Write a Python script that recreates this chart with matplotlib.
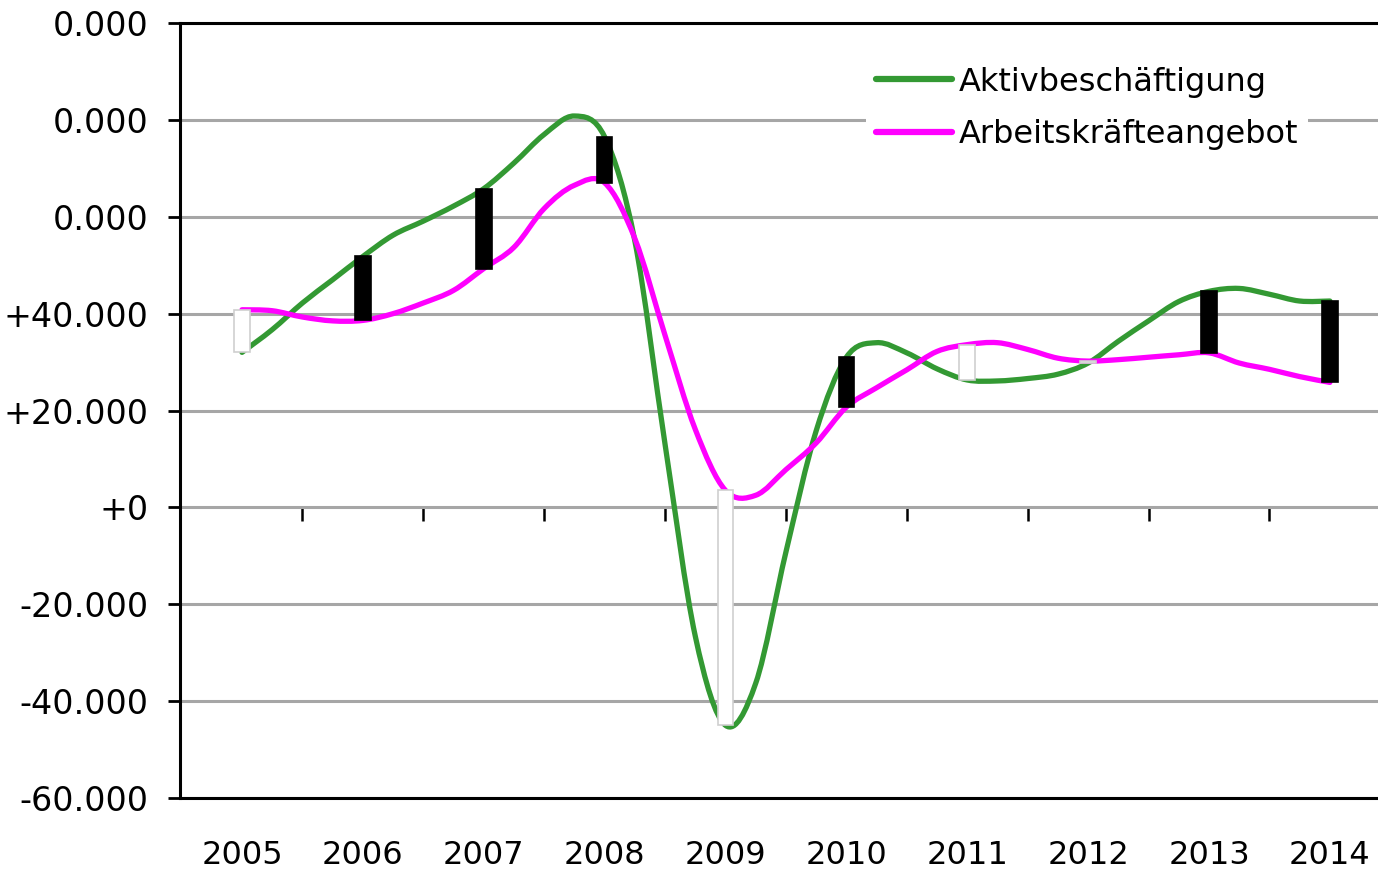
import numpy as np
import matplotlib
matplotlib.use("Agg")
import matplotlib.pyplot as plt
from matplotlib.path import Path
from matplotlib.patches import PathPatch
from matplotlib.lines import Line2D

# ---------------- Daten (Quartalswerte) ----------------
quartale = [2005 + i * 0.25 for i in range(37)]

aktiv = [32.0, 36.7, 42.2, 47.0, 51.8, 56.2, 59.1, 62.2, 65.8, 71.1, 77.0, 80.8,
         76.5, 55.0, 13.0, -26.6, -45.0, -36.3, -9.2, 15.8, 31.0, 34.0, 31.9, 28.6,
         26.3, 26.1, 26.6, 27.5, 29.8, 34.3, 38.5, 42.5, 44.6, 45.2, 44.0, 42.6, 42.6]

angebot = [40.8, 40.6, 39.3, 38.5, 38.6, 40.0, 42.2, 44.8, 49.3, 53.7, 61.7, 66.5,
           67.0, 55.5, 35.5, 16.1, 3.5, 2.5, 7.8, 13.3, 20.7, 24.7, 28.4, 32.2,
           33.6, 34.0, 32.6, 30.8, 30.2, 30.5, 31.0, 31.5, 31.9, 29.8, 28.5, 27.0, 25.8]

jahre = [2005, 2006, 2007, 2008, 2009, 2010, 2011, 2012, 2013, 2014]

y_ticks = [-60000, -40000, -20000, 0, 20000, 40000, 60000, 80000, 100000]
y_labels = ["-60.000", "-40.000", "-20.000", "+0", "+20.000", "+40.000",
            "0.000", "0.000", "0.000"]

GRUEN = "#339933"
MAGENTA = "#FF00FF"


def glatte_linie(xs, ys):
    """Geglaettete Linie wie in Excel: Bezier-Pfad durch alle Punkte."""
    pts = np.column_stack([xs, ys])
    n = len(pts)
    verts = [pts[0]]
    codes = [Path.MOVETO]
    for i in range(n - 1):
        p0 = pts[max(i - 1, 0)]
        p1 = pts[i]
        p2 = pts[i + 1]
        p3 = pts[min(i + 2, n - 1)]
        verts += [p1 + (p2 - p0) / 6, p2 - (p3 - p1) / 6, p2]
        codes += [Path.CURVE4] * 3
    return Path(verts, codes)


# ---------------- Abbildung ----------------
plt.rcParams["font.family"] = ["DejaVu Sans"]
fig = plt.figure(figsize=(13.78, 8.74), dpi=100)
ax = fig.add_axes([180 / 1378, 76 / 874, (1400 - 180) / 1378, (798 - 23) / 874])

x = np.array(quartale)
g = np.array(aktiv) * 1000
m = np.array(angebot) * 1000

for werte, farbe in [(g, GRUEN), (m, MAGENTA)]:
    ax.add_patch(PathPatch(glatte_linie(x, werte), fill=False, edgecolor=farbe,
                           lw=3.8, capstyle="round", joinstyle="round", zorder=3))

# Differenzbalken je Jahr (Jahreswerte = jeder 4. Quartalswert)
gj = g[::4]
mj = m[::4]
diff = gj - mj
farben = ["black" if d > 0 else "white" for d in diff]
kanten = ["black" if d > 0 else "#CFCFCF" for d in diff]
ax.bar(jahre, diff, bottom=mj, width=0.13, color=farben, edgecolor=kanten,
       linewidth=1.2, zorder=4)

# Achsen
ax.set_xlim(2004.487, 2014.58)
ax.set_ylim(-60000, 100000)
ax.set_yticks(y_ticks)
ax.set_yticklabels(y_labels)
ax.grid(axis="y", color="#A6A6A6", lw=2.2, zorder=1)
ax.tick_params(axis="y", direction="out", length=9, width=2, labelsize=24, pad=13.5)

ax.set_xticks(jahre)
ax.set_xticklabels([str(j) for j in jahre])
ax.tick_params(axis="x", length=0, labelsize=23, pad=30)

for s in ["left", "top", "bottom"]:
    ax.spines[s].set_linewidth(2.2)
    ax.spines[s].set_color("black")
ax.spines["right"].set_visible(False)

# Nulllinie mit Teilstrichen zwischen den Jahren
null = ax.secondary_xaxis(60 / 160)
null.set_xticks([j + 0.5 for j in jahre[:-1]])
null.set_xticklabels([])
null.tick_params(direction="out", length=10, width=1.8)
null.spines["bottom"].set_linewidth(1.8)
null.spines["bottom"].set_color("black")

handles = [Line2D([], [], color=GRUEN, lw=4.5, solid_capstyle="round"),
           Line2D([], [], color=MAGENTA, lw=4.5, solid_capstyle="round")]
leg = ax.legend(handles, ["Aktivbeschäftigung", "Arbeitskräfteangebot"],
                loc="upper left", bbox_to_anchor=(866 / 1378, 1 - 57 / 874),
                bbox_transform=fig.transFigure, fontsize=23, frameon=True,
                facecolor="white", edgecolor="none", framealpha=1, fancybox=False,
                handlelength=2.4, handletextpad=0.2, labelspacing=0.68,
                borderpad=0.3, borderaxespad=0)
leg.set_zorder(5)

fig.savefig("out.png", dpi=100)
